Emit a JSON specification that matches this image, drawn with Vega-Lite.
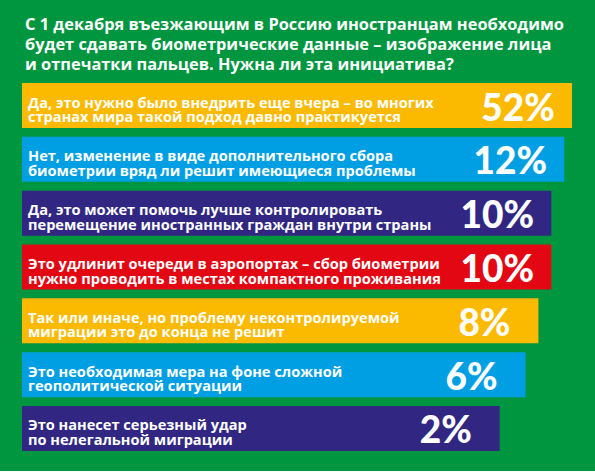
{
  "$schema": "https://vega.github.io/schema/vega-lite/v6.json",
  "width": 550,
  "height": 368,
  "padding": {"left": 22, "top": 16, "right": 23, "bottom": 20},
  "background": "#009640",
  "title": {
    "text": [
      "С 1 декабря въезжающим в Россию иностранцам необходимо",
      "будет сдавать биометрические данные – изображение лица",
      "и отпечатки пальцев. Нужна ли эта инициатива?"
    ],
    "anchor": "start",
    "frame": "group",
    "font": "Open Sans",
    "fontWeight": 700,
    "fontSize": 16.4,
    "lineHeight": 20,
    "color": "white",
    "dx": 3,
    "offset": 10
  },
  "config": {"view": {"stroke": null}},
  "data": {
    "values": [
      {"answer": "Да, это нужно было внедрить еще вчера – во многих\nстранах мира такой подход давно практикуется", "pct": 0.52},
      {"answer": "Нет, изменение в виде дополнительного сбора\nбиометрии вряд ли решит имеющиеся проблемы", "pct": 0.12},
      {"answer": "Да, это может помочь лучше контролировать\nперемещение иностранных граждан внутри страны", "pct": 0.10},
      {"answer": "Это удлинит очереди в аэропортах – сбор биометрии\nнужно проводить в местах компактного проживания", "pct": 0.10},
      {"answer": "Так или иначе, но проблему неконтролируемой\nмиграции это до конца не решит", "pct": 0.08},
      {"answer": "Это необходимая мера на фоне сложной\nгеополитической ситуации", "pct": 0.06},
      {"answer": "Это нанесет серьезный удар\nпо нелегальной миграции", "pct": 0.02}
    ]
  },
  "encoding": {
    "y": {
      "field": "answer",
      "type": "nominal",
      "sort": null,
      "axis": null,
      "scale": {"paddingInner": 0.164, "paddingOuter": 0}
    }
  },
  "layer": [
    {
      "mark": {"type": "bar"},
      "encoding": {
        "x": {
          "field": "pct",
          "type": "quantitative",
          "axis": null,
          "scale": {"domain": [-0.72, 0.132], "clamp": true, "zero": false, "nice": false}
        },
        "x2": {"datum": -0.72},
        "color": {
          "field": "answer",
          "type": "nominal",
          "sort": null,
          "legend": null,
          "scale": {"range": ["#FBBA00", "#009FE3", "#312783", "#E30613", "#FBBA00", "#009FE3", "#312783"]}
        }
      }
    },
    {
      "mark": {
        "type": "text",
        "align": "left",
        "baseline": "middle",
        "lineBreak": "\n",
        "lineHeight": 14.5,
        "font": "Open Sans",
        "fontWeight": 700,
        "fontSize": 14.6,
        "color": "white",
        "dx": 6,
        "dy": -2
      },
      "encoding": {
        "x": {"datum": -0.72},
        "text": {"field": "answer"}
      }
    },
    {
      "mark": {
        "type": "text",
        "align": "center",
        "baseline": "alphabetic",
        "font": "Lato",
        "fontWeight": 900,
        "fontSize": 37,
        "color": "white",
        "dx": -54,
        "dy": 15
      },
      "encoding": {
        "x": {"field": "pct", "type": "quantitative"},
        "text": {"field": "pct", "type": "quantitative", "format": ".0%"}
      }
    }
  ]
}
